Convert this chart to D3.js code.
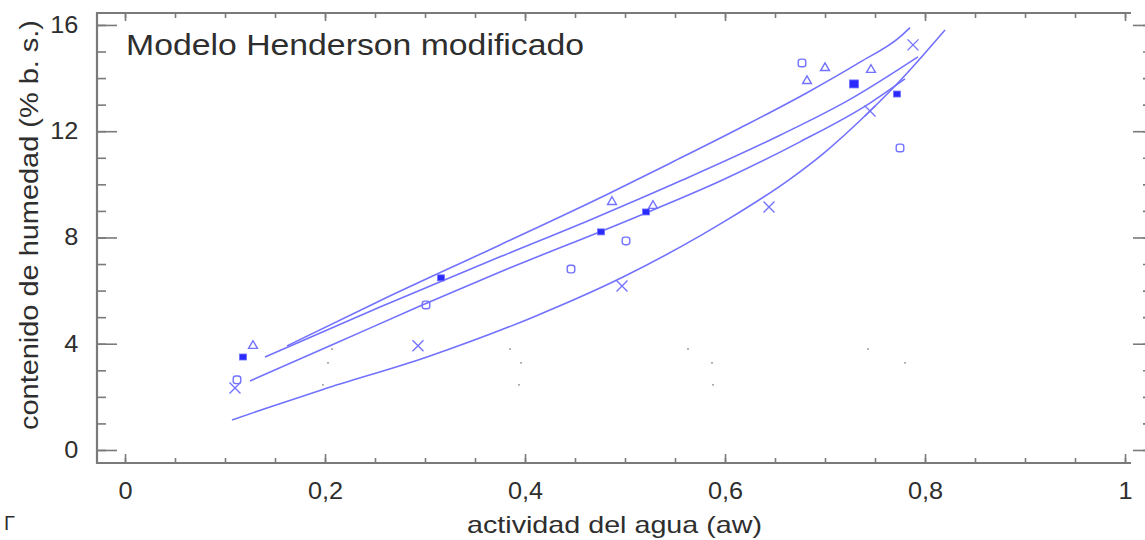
<!DOCTYPE html>
<html>
<head>
<meta charset="utf-8">
<script src="https://cdn.jsdelivr.net/npm/d3@7"></script>
<style>
  html, body { margin: 0; padding: 0; background: #fff; }
  svg { display: block; }
  text { font-family: "Liberation Sans", Arial, sans-serif; fill: #2e2e2e; }
</style>
</head>
<body>
<svg id="chart" width="1145" height="540"></svg>
<script>
// Experimental points: water activity (aw) and moisture content (% d.b.)
const triangulos = [
  [0.128, 3.92], [0.487, 9.34], [0.528, 9.19],
  [0.682, 13.89], [0.700, 14.38], [0.746, 14.31]
];
const cuadradosLlenos = [
  [0.118, 3.50], [0.316, 6.48], [0.476, 8.21],
  [0.521, 8.96], [0.729, 13.78], [0.772, 13.40]
];
const circulos = [
  [0.112, 2.64], [0.301, 5.46], [0.446, 6.81],
  [0.501, 7.87], [0.775, 11.37], [0.677, 14.57]
];
const cruces = [
  [0.110, 2.33], [0.293, 3.92], [0.497, 6.17],
  [0.644, 9.15], [0.745, 12.76], [0.788, 15.25]
];

// Fitted Henderson curves, points along each curve
const curvaA = [
  [0.162, 3.92], [0.255, 5.62], [0.375, 7.72], [0.482, 9.62], [0.548, 10.85],
  [0.615, 12.12], [0.682, 13.45], [0.735, 14.60], [0.775, 15.55], [0.785, 15.90]
];
const curvaB = [
  [0.140, 3.50], [0.255, 5.38], [0.375, 7.27], [0.465, 8.66], [0.558, 10.17],
  [0.655, 11.85], [0.725, 13.20], [0.793, 14.80]
];
const curvaC = [
  [0.125, 2.60], [0.205, 3.92], [0.295, 5.42], [0.375, 6.70], [0.504, 8.66],
  [0.598, 10.17], [0.675, 11.60], [0.745, 13.06], [0.780, 13.97]
];
const curvaD = [
  [0.107, 1.13], [0.142, 1.58], [0.198, 2.28], [0.302, 3.50], [0.408, 5.00],
  [0.498, 6.51], [0.575, 8.06], [0.602, 8.66], [0.665, 10.20], [0.698, 11.15],
  [0.745, 12.76], [0.775, 13.90], [0.820, 15.81]
];

// Small stray marks inside the plot area
const puntitos = [
  [0.207, 3.80], [0.203, 3.28], [0.198, 2.45], [0.385, 3.80], [0.396, 3.28],
  [0.394, 2.45], [0.563, 3.80], [0.587, 3.28], [0.588, 2.45], [0.743, 3.80],
  [0.780, 3.28]
];

// Axis ticks
const xMayores = [0, 0.2, 0.4, 0.6, 0.8, 1];
const xMenores = d3.range(0, 21).map(i => i * 0.05);
const yMayores = [0, 4, 8, 12, 16];
const yMenores = d3.range(0, 17);
const etiquetaX = d => d === 0 || d === 1 ? String(d) : d.toFixed(1).replace(".", ",");

const titulo = "Modelo Henderson modificado";
const tituloX = "actividad del agua (aw)";
const tituloY = "contenido de humedad (% b. s.)";

const svg = d3.select("#chart");
const x = d3.scaleLinear().domain([-0.028, 1.022]).range([97, 1147]);
const y = d3.scaleLinear().domain([-0.49, 16.45]).range([463, 13]);

const lineColor = "#7272ff";
const frameColor = "#7a7a7a";

// Frame ticks
function styleAxis(g) {
  g.select(".domain").remove();
  g.selectAll(".tick line").attr("stroke", frameColor).attr("stroke-width", 1.6);
  g.selectAll(".tick text").style("font-size", "23px").attr("fill", "#2e2e2e")
    .attr("transform", "scale(1.1,1)");
}
svg.append("g").attr("transform", `translate(0,${y.range()[0]})`)
  .call(d3.axisBottom(x).tickValues(xMenores).tickSize(-5).tickFormat(""))
  .call(styleAxis);
svg.append("g").attr("transform", `translate(0,${y.range()[0]})`)
  .call(d3.axisBottom(x).tickValues(xMayores).tickSize(-9).tickPadding(20).tickFormat(etiquetaX))
  .call(styleAxis);
svg.append("g").attr("transform", `translate(0,${y.range()[1]})`)
  .call(d3.axisTop(x).tickValues(xMenores).tickSize(-5).tickFormat(""))
  .call(styleAxis);
svg.append("g").attr("transform", `translate(0,${y.range()[1]})`)
  .call(d3.axisTop(x).tickValues(xMayores).tickSize(-8).tickFormat(""))
  .call(styleAxis);
svg.append("g").attr("transform", `translate(${x.range()[0]},0)`)
  .call(d3.axisLeft(y).tickValues(yMenores).tickSize(-9).tickFormat(""))
  .call(styleAxis);
svg.append("g").attr("transform", `translate(${x.range()[0]},0)`)
  .call(d3.axisLeft(y).tickValues(yMayores).tickSize(-20).tickPadding(17).tickFormat(d3.format("d")))
  .call(styleAxis);
svg.append("g").attr("transform", `translate(${x.range()[1]},0)`)
  .call(d3.axisRight(y).tickValues(yMenores).tickSize(-4).tickFormat(""))
  .call(styleAxis);
svg.append("g").attr("transform", `translate(${x.range()[1]},0)`)
  .call(d3.axisRight(y).tickValues(yMayores).tickSize(-14).tickFormat(""))
  .call(styleAxis);

// Frame lines
const xr = 1131;
svg.append("path")
  .attr("d", `M${xr},${y.range()[1]}H${x.range()[0]}V${y.range()[0]}H${xr}`)
  .attr("fill", "none").attr("stroke", frameColor).attr("stroke-width", 2.2);

// Curves
const line = d3.line().x(d => x(d[0])).y(d => y(d[1])).curve(d3.curveMonotoneX);
[curvaA, curvaB, curvaC, curvaD].forEach(c => {
  svg.append("path").attr("d", line(c))
    .attr("fill", "none").attr("stroke", lineColor).attr("stroke-width", 1.6);
});

// Stray marks
svg.append("g").selectAll("rect").data(puntitos).join("rect")
  .attr("x", d => x(d[0]) - 1).attr("y", d => y(d[1]) - 0.7)
  .attr("width", 2).attr("height", 1.4).attr("fill", "#9a9a9a");

// Markers
const tri = d3.symbol().type(d3.symbolTriangle).size(34);
svg.append("g").selectAll("path").data(triangulos).join("path")
  .attr("d", tri).attr("transform", d => `translate(${x(d[0])},${y(d[1])})`)
  .attr("fill", "none").attr("stroke", lineColor).attr("stroke-width", 1.4);

svg.append("g").selectAll("rect").data(cuadradosLlenos).join("rect")
  .attr("x", (d, i) => x(d[0]) - (i === 4 ? 4.5 : 3.5))
  .attr("y", (d, i) => y(d[1]) - (i === 4 ? 4 : 3))
  .attr("width", (d, i) => i === 4 ? 9 : 7).attr("height", (d, i) => i === 4 ? 8 : 6)
  .attr("fill", "#2a2aff").attr("stroke", lineColor).attr("stroke-width", 0.8);

svg.append("g").selectAll("rect").data(circulos).join("rect")
  .attr("x", d => x(d[0]) - 3.8).attr("y", d => y(d[1]) - 3.8)
  .attr("width", 7.6).attr("height", 7.6).attr("rx", 2.6)
  .attr("fill", "none").attr("stroke", lineColor).attr("stroke-width", 1.4);

svg.append("g").selectAll("path").data(cruces).join("path")
  .attr("d", d => {
    const cx = x(d[0]), cy = y(d[1]), r = 5.5;
    return `M${cx - r},${cy - r}L${cx + r},${cy + r}M${cx - r},${cy + r}L${cx + r},${cy - r}`;
  })
  .attr("fill", "none").attr("stroke", lineColor).attr("stroke-width", 1.4);

// Texts
svg.append("text").attr("x", 126).attr("y", 55).style("font-size", "29px")
  .attr("textLength", 458).attr("lengthAdjust", "spacingAndGlyphs").text(titulo);
svg.append("text").attr("x", 467).attr("y", 533)
  .style("font-size", "24px")
  .attr("textLength", 295).attr("lengthAdjust", "spacingAndGlyphs").text(tituloX);
svg.append("text").attr("transform", "translate(38,430) rotate(-90)")
  .style("font-size", "25px")
  .attr("textLength", 410).attr("lengthAdjust", "spacingAndGlyphs").text(tituloY);
svg.append("text").attr("x", 4).attr("y", 530).style("font-size", "20px").text("Г");
</script>
</body>
</html>
